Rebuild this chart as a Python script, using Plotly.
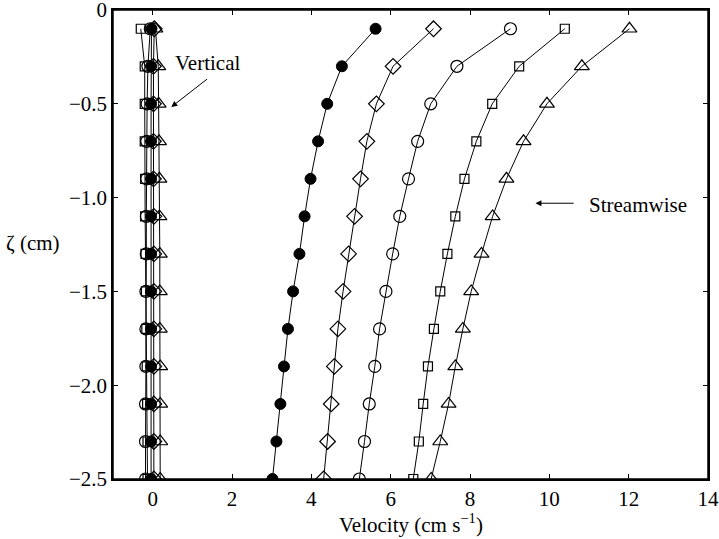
import plotly.graph_objects as go

# Depth levels (cm)
zeta = [-0.1, -0.3, -0.5, -0.7, -0.9, -1.1, -1.3, -1.5, -1.7, -1.9, -2.1, -2.3, -2.5]

# Streamwise velocity profiles (cm/s)
u_filled = [5.62, 4.77, 4.40, 4.17, 3.98, 3.83, 3.70, 3.54, 3.41, 3.31, 3.22, 3.12, 3.02]
u_diamond = [7.08, 6.06, 5.64, 5.40, 5.24, 5.09, 4.94, 4.80, 4.67, 4.58, 4.50, 4.41, 4.31]
u_circle = [9.02, 7.67, 7.01, 6.68, 6.45, 6.23, 6.05, 5.88, 5.72, 5.60, 5.46, 5.34, 5.21]
u_square = [10.39, 9.24, 8.56, 8.16, 7.86, 7.63, 7.43, 7.25, 7.09, 6.94, 6.82, 6.71, 6.57]
u_triangle = [12.02, 10.82, 9.94, 9.35, 8.92, 8.57, 8.29, 8.03, 7.82, 7.63, 7.46, 7.25, 7.02]

# Vertical velocity profiles (cm/s)
w_filled = [-0.03, -0.04, -0.04, -0.04, -0.04, -0.04, -0.04, -0.04, -0.04, -0.04, -0.04, -0.04, -0.04]
w_diamond = [0.04, 0.02, 0.02, 0.02, 0.02, 0.03, 0.03, 0.03, 0.03, 0.03, 0.03, 0.03, 0.03]
w_circle = [-0.06, -0.12, -0.14, -0.15, -0.15, -0.16, -0.16, -0.17, -0.17, -0.17, -0.18, -0.18, -0.18]
w_square = [-0.30, -0.20, -0.20, -0.20, -0.19, -0.19, -0.18, -0.17, -0.16, -0.15, -0.14, -0.13, -0.13]
w_triangle = [0.07, 0.14, 0.15, 0.16, 0.17, 0.17, 0.18, 0.18, 0.18, 0.19, 0.19, 0.19, 0.19]

x_ticks = [0, 2, 4, 6, 8, 10, 12, 14]
y_ticks = [0, -0.5, -1.0, -1.5, -2.0, -2.5]
y_ticktext = ["0", "\u22120.5", "\u22121.0", "\u22121.5", "\u22122.0", "\u22122.5"]

FONT = "Liberation Serif"
FS = 21

W, H = 719, 539
ML, MR, MT, MB = 113, 11, 10, 60
plot_w = W - ML - MR
plot_h = H - MT - MB

styles = {
    "filled": dict(symbol="circle", size=11, color="black", line=dict(color="black", width=1)),
    "diamond": dict(symbol="diamond-open", size=12, color="black", line=dict(color="black", width=1.2)),
    "circle": dict(symbol="circle-open", size=12, color="black", line=dict(color="black", width=1.2)),
    "square": dict(symbol="square-open", size=9, color="black", line=dict(color="black", width=1.2)),
    "triangle": dict(symbol="triangle-up-open", size=13, color="black", line=dict(color="black", width=1.2)),
}

fig = go.Figure()

vertical = [("triangle", w_triangle), ("square", w_square), ("circle", w_circle),
            ("diamond", w_diamond), ("filled", w_filled)]
for key, w in vertical:
    fig.add_trace(go.Scatter(x=w, y=zeta, mode="lines+markers",
                             line=dict(color="black", width=1),
                             marker=styles[key], showlegend=False))

streamwise = [("filled", u_filled), ("diamond", u_diamond), ("circle", u_circle),
              ("square", u_square), ("triangle", u_triangle)]
for key, u in streamwise:
    fig.add_trace(go.Scatter(x=u, y=zeta, mode="lines+markers",
                             line=dict(color="black", width=1),
                             marker=styles[key], showlegend=False))

axis_common = dict(showline=True, linecolor="black", linewidth=1.5, mirror="ticks",
                   ticks="inside", ticklen=5, tickcolor="black", tickwidth=1,
                   showgrid=False, zeroline=False, automargin=False,
                   ticklabeloverflow="allow",
                   tickfont=dict(family=FONT, size=FS, color="black"))

fig.update_xaxes(range=[-1, 14], tickvals=x_ticks, **axis_common)
fig.update_yaxes(range=[-2.5, 0], tickvals=y_ticks, ticktext=y_ticktext, **axis_common)

# Closed frame around the plotting area
fig.add_shape(type="rect", xref="paper", yref="paper", x0=0, y0=0, x1=1, y1=1,
              line=dict(color="black", width=1.5), fillcolor="rgba(0,0,0,0)", layer="above")

# Labels with arrows
fig.add_annotation(x=0.47, y=-0.517, ax=1.41, ay=-0.362, xref="x", yref="y",
                   axref="x", ayref="y", text="", showarrow=True,
                   arrowhead=2, arrowsize=1.2, arrowwidth=1, arrowcolor="black")
fig.add_annotation(x=0.52, y=-0.28, xref="x", yref="y", text="Vertical", showarrow=False,
                   xanchor="left", yanchor="middle",
                   font=dict(family=FONT, size=FS, color="black"))
fig.add_annotation(x=9.65, y=-1.03, ax=10.65, ay=-1.03, xref="x", yref="y",
                   axref="x", ayref="y", text="", showarrow=True,
                   arrowhead=2, arrowsize=1.2, arrowwidth=1, arrowcolor="black")
fig.add_annotation(x=10.96, y=-1.04, xref="x", yref="y", text="Streamwise", showarrow=False,
                   xanchor="left", yanchor="middle",
                   font=dict(family=FONT, size=FS, color="black"))

# Axis titles
fig.add_annotation(x=0.5, y=(H - MB - 523) / plot_h, xref="paper", yref="paper",
                   text="Velocity (cm s<sup>\u22121</sup>)", showarrow=False,
                   xanchor="center", yanchor="middle",
                   font=dict(family=FONT, size=FS, color="black"))
fig.add_annotation(x=(4 - ML) / plot_w, y=(H - MB - 243) / plot_h,
                   xref="paper", yref="paper", text="\u03b6 (cm)",
                   showarrow=False, xanchor="left", yanchor="middle",
                   font=dict(family=FONT, size=FS, color="black"))

fig.update_layout(width=W, height=H,
                  margin=dict(l=ML, r=MR, t=MT, b=MB, autoexpand=False),
                  plot_bgcolor="white", paper_bgcolor="white")

fig.write_html("out.html")
